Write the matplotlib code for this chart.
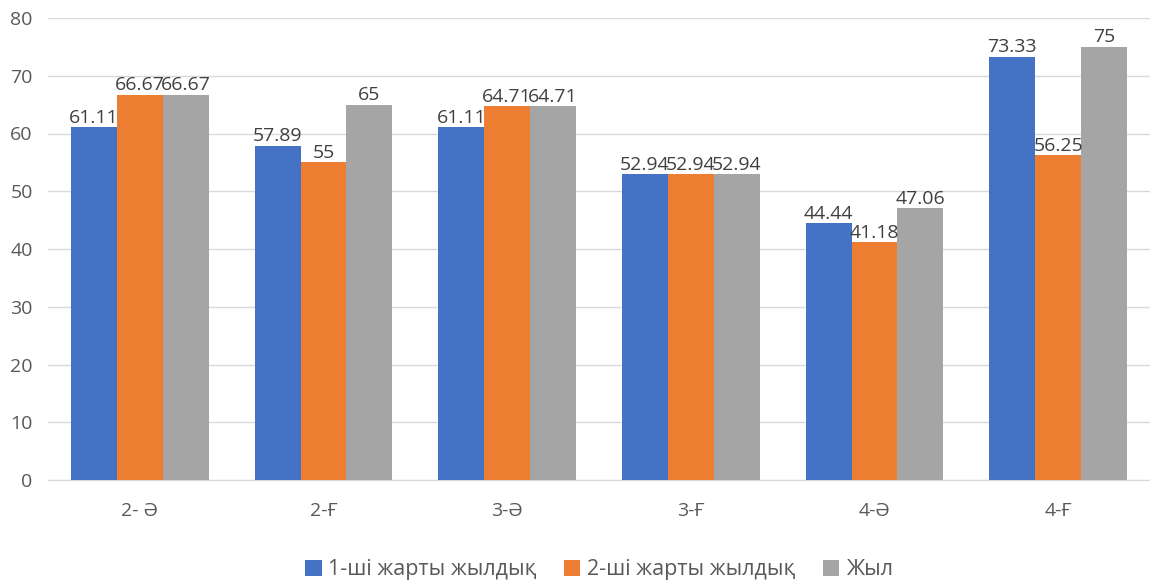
import numpy as np
import matplotlib

matplotlib.use("Agg")
import matplotlib.pyplot as plt

plt.rcParams["font.family"] = ["Open Sans", "DejaVu Sans"]

categories = ["2- Ә", "2-Ғ", "3-Ә", "3-Ғ", "4-Ә", "4-Ғ"]
series_names = ["1-ші жарты жылдық", "2-ші жарты жылдық", "Жыл"]
first_half = [61.11, 57.89, 61.11, 52.94, 44.44, 73.33]
second_half = [66.67, 55, 64.71, 52.94, 41.18, 56.25]
year = [66.67, 65, 64.71, 52.94, 47.06, 75]
colors = ["#4472C4", "#ED7D31", "#A5A5A5"]

fig = plt.figure(figsize=(11.5, 5.83), dpi=100)
ax = fig.add_axes([48 / 1150, 1 - 480 / 583, 1102 / 1150, 462 / 583])

x = np.arange(len(categories))
w = 0.25
for i, (vals, name, c) in enumerate(zip([first_half, second_half, year], series_names, colors)):
    pos = x + (i - 1) * w
    ax.bar(pos, vals, width=w, color=c, label=name, zorder=3)
    for xp, v in zip(pos, vals):
        ax.text(xp, v + 0.1, f"{v:g}", ha="center", va="bottom", fontsize=14, color="#404040", zorder=4)

ax.set_xlim(-0.5, len(categories) - 0.5)
ax.set_ylim(0, 80)
ax.set_yticks(range(0, 81, 10))
ax.set_xticks(x)
ax.set_xticklabels(categories)
ax.yaxis.grid(True, color="#D9D9D9", lw=1, zorder=0)
for s in ["top", "right", "left"]:
    ax.spines[s].set_visible(False)
ax.spines["bottom"].set_color("#D9D9D9")
ax.tick_params(axis="both", length=0, labelsize=14, colors="#595959")
ax.tick_params(axis="x", pad=16)
ax.tick_params(axis="y", pad=11)

ax.legend(loc="upper center", bbox_to_anchor=(0.5, -0.13), ncol=3, frameon=False,
          fontsize=15.5, handlelength=0.75, handleheight=0.75, handletextpad=0.3,
          columnspacing=1.3, labelcolor="#595959")

fig.savefig("out.png", dpi=100)
